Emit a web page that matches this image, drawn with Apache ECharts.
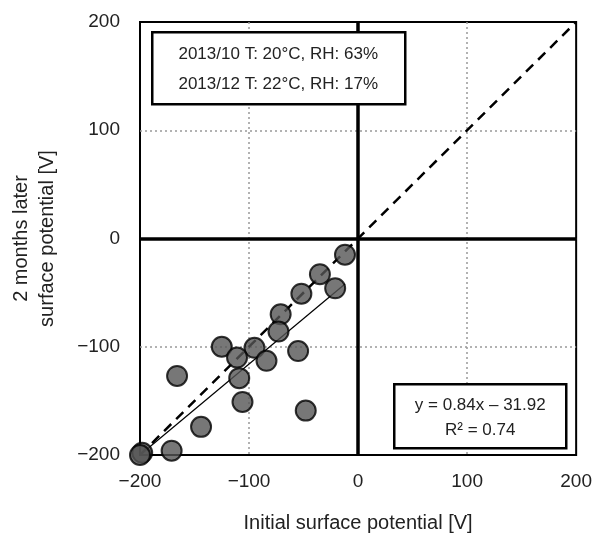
<!DOCTYPE html>
<html>
<head>
<meta charset="utf-8">
<script src="https://cdn.jsdelivr.net/npm/echarts@6/dist/echarts.min.js"></script>
<style>
  html, body { margin: 0; padding: 0; background: #fff; }
  #chart { width: 595px; height: 538px; }
</style>
</head>
<body>
<div id="chart"></div>
<script>
// measured points: [initial, 2 months later]
var initialV = [-12, -35, -21, -52, -71, -73, -125, -95, -55, -111, -84, -166, -109, -106, -48, -144, -171, -198, -200];
var laterV   = [-15, -33, -46, -51, -70, -86, -100, -101, -104, -110, -113, -127, -129, -151, -159, -174, -196, -198, -200];
var equalLine = [[-200, -200], [200, 200]];
var trendLine = [[-200, -200], [-12, -42]];
var axisTicks = [-200, -100, 0, 100, 200];
var noteLines = ["2013/10 T: 20°C, RH: 63%", "2013/12 T: 22°C, RH: 17%"];
var fitLines = ["y = 0.84x \u2013 31.92", "R\u00b2 = 0.74"];

var pts = [];
for (var i = 0; i < initialV.length; i++) {
    pts.push([initialV[i], laterV[i]]);
}

var font = "Liberation Sans, Arial, sans-serif";
var myChart = echarts.init(document.getElementById("chart"));

function boxText(x, y, txt) {
    return { type: "text", x: x, y: y, z: 101, style: { text: txt, fill: "#222",
        font: "17px " + font, textAlign: "center", textVerticalAlign: "middle" } };
}
function minusFmt(v) { return v < 0 ? "\u2212" + (-v) : v; }

var option = {
    backgroundColor: "#fff",
    animation: false,
    grid: {
        left: 140, right: 18, top: 22, bottom: 80,
        show: true, borderColor: "#000", borderWidth: 2, backgroundColor: "transparent"
    },
    xAxis: {
        type: "value", min: axisTicks[0], max: axisTicks[4], interval: 100,
        axisLine: { show: false },
        axisTick: { show: false },
        axisLabel: { color: "#222", fontSize: 19, fontFamily: font, margin: 17, formatter: minusFmt },
        splitLine: { showMinLine: false, showMaxLine: false,
            lineStyle: { color: "#999", type: [2, 3], width: 1.5 } },
        name: "Initial surface potential [V]",
        nameLocation: "middle", nameGap: 58,
        nameTextStyle: { color: "#222", fontSize: 20, fontFamily: font }
    },
    yAxis: {
        type: "value", min: axisTicks[0], max: axisTicks[4], interval: 100,
        axisLine: { show: false },
        axisTick: { show: false },
        axisLabel: { color: "#222", fontSize: 19, fontFamily: font, margin: 20, formatter: minusFmt },
        splitLine: { showMinLine: false, showMaxLine: false,
            lineStyle: { color: "#999", type: [2, 3], width: 1.5 } },
        name: "2 months later\nsurface potential [V]",
        nameLocation: "middle", nameGap: 80, nameRotate: 90,
        nameTextStyle: { color: "#222", fontSize: 20, fontFamily: font, lineHeight: 26 }
    },
    series: [
        {
            type: "line", data: equalLine, symbol: "none", silent: true, z: 3,
            lineStyle: { color: "#000", width: 2.5, type: [10, 7] },
            markLine: {
                silent: true, symbol: "none", label: { show: false },
                lineStyle: { color: "#000", width: 3.5, type: "solid" },
                data: [{ xAxis: 0 }, { yAxis: 0 }]
            }
        },
        {
            type: "line", data: trendLine, symbol: "none", silent: true, z: 3,
            lineStyle: { color: "#000", width: 1.2 }
        },
        {
            type: "scatter", data: pts, symbol: "circle", symbolSize: 20, z: 4,
            itemStyle: { color: "#555", borderColor: "#000", borderWidth: 2 }
        }
    ],
    graphic: [
        {
            type: "group", left: 151, top: 31, z: 100,
            children: [
                { type: "rect", z: 100, shape: { x: 0, y: 0, width: 253, height: 72 },
                  style: { fill: "#fff", stroke: "#000", lineWidth: 2.5 } },
                boxText(126, 22, noteLines[0]),
                boxText(126, 52, noteLines[1])
            ]
        },
        {
            type: "group", left: 393, top: 383, z: 100,
            children: [
                { type: "rect", z: 100, shape: { x: 0, y: 0, width: 172, height: 64 },
                  style: { fill: "#fff", stroke: "#000", lineWidth: 2.5 } },
                boxText(86, 21, fitLines[0]),
                boxText(86, 46, fitLines[1])
            ]
        }
    ]
};

myChart.setOption(option);
</script>
</body>
</html>
